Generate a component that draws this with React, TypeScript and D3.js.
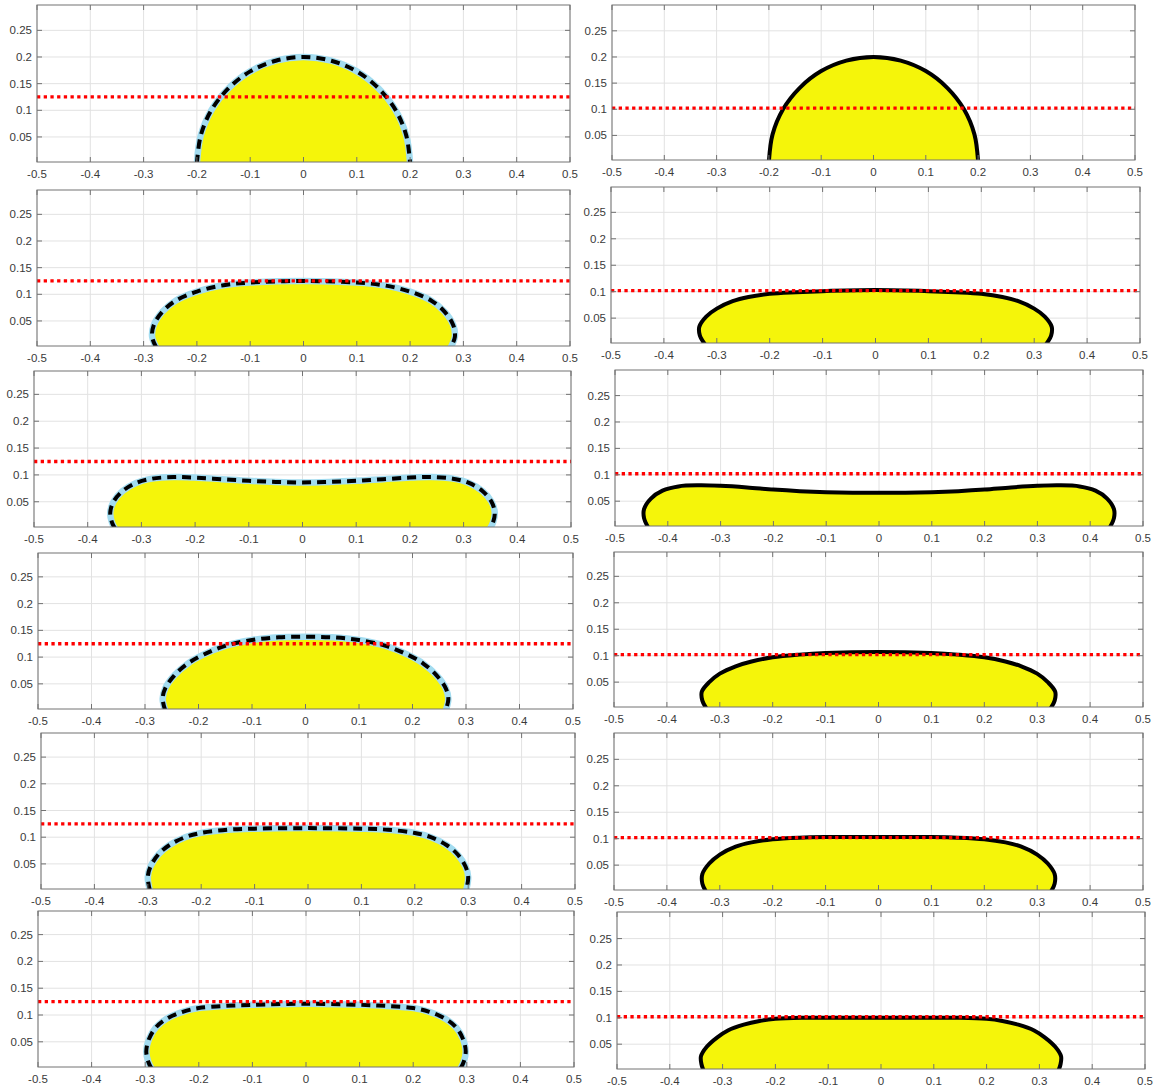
import React from "react";
import * as d3 from "d3";

// ---------- data ----------
const xTicks = [-0.5, -0.4, -0.3, -0.2, -0.1, 0, 0.1, 0.2, 0.3, 0.4, 0.5];
const xTickLabels = ["-0.5", "-0.4", "-0.3", "-0.2", "-0.1", "0", "0.1", "0.2", "0.3", "0.4", "0.5"];
const yTicks = [0.05, 0.1, 0.15, 0.2, 0.25];
const yTickLabels = ["0.05", "0.1", "0.15", "0.2", "0.25"];

const levelLeft = 0.125;
const levelRight = 0.102;

// right-half droplet profiles: from apex (x=0) around to the contact point on the wall
const profileL1: [number, number][] = [[0, 0.2], [0.052, 0.193], [0.1, 0.173], [0.141, 0.141], [0.173, 0.1], [0.193, 0.052], [0.2, 0]];
const profileL2: [number, number][] = [[0, 0.125], [0.1, 0.122], [0.15, 0.117], [0.2, 0.105], [0.24, 0.088], [0.265, 0.067], [0.281, 0.042], [0.284, 0.02], [0.276, 0]];
const profileL3: [number, number][] = [[0, 0.086], [0.05, 0.087], [0.1, 0.089], [0.15, 0.092], [0.2, 0.095], [0.24, 0.096], [0.28, 0.093], [0.31, 0.085], [0.335, 0.07], [0.352, 0.05], [0.358, 0.03], [0.355, 0.012], [0.349, 0]];
const profileL4: [number, number][] = [[0, 0.138], [0.05, 0.137], [0.1, 0.132], [0.15, 0.121], [0.19, 0.105], [0.22, 0.088], [0.245, 0.066], [0.262, 0.042], [0.267, 0.022], [0.262, 0]];
const profileL5: [number, number][] = [[0, 0.117], [0.1, 0.116], [0.15, 0.114], [0.2, 0.108], [0.23, 0.1], [0.26, 0.085], [0.28, 0.068], [0.295, 0.045], [0.3, 0.025], [0.296, 0]];
const profileL6: [number, number][] = [[0, 0.121], [0.1, 0.119], [0.15, 0.117], [0.2, 0.113], [0.23, 0.106], [0.26, 0.093], [0.28, 0.077], [0.293, 0.055], [0.298, 0.032], [0.294, 0.012], [0.288, 0]];

const profileR1: [number, number][] = [[0, 0.2], [0.052, 0.193], [0.1, 0.173], [0.141, 0.141], [0.173, 0.1], [0.193, 0.052], [0.2, 0]];
const profileR2: [number, number][] = [[0, 0.103], [0.1, 0.101], [0.15, 0.099], [0.2, 0.096], [0.24, 0.09], [0.27, 0.082], [0.3, 0.068], [0.32, 0.053], [0.333, 0.034], [0.332, 0.017], [0.322, 0]];
const profileR3: [number, number][] = [[0, 0.066], [0.05, 0.066], [0.1, 0.067], [0.15, 0.069], [0.2, 0.072], [0.25, 0.076], [0.3, 0.079], [0.34, 0.08], [0.38, 0.078], [0.41, 0.07], [0.432, 0.055], [0.445, 0.035], [0.445, 0.018], [0.437, 0]];
const profileR4: [number, number][] = [[0, 0.107], [0.1, 0.105], [0.15, 0.102], [0.2, 0.097], [0.24, 0.089], [0.27, 0.08], [0.3, 0.066], [0.32, 0.05], [0.334, 0.032], [0.333, 0.015], [0.325, 0]];
const profileR5: [number, number][] = [[0, 0.103], [0.1, 0.103], [0.15, 0.102], [0.2, 0.099], [0.24, 0.093], [0.27, 0.085], [0.3, 0.07], [0.32, 0.053], [0.333, 0.033], [0.333, 0.015], [0.326, 0]];
const profileR6: [number, number][] = [[0, 0.1], [0.15, 0.1], [0.2, 0.098], [0.23, 0.094], [0.26, 0.087], [0.29, 0.076], [0.31, 0.063], [0.33, 0.045], [0.341, 0.027], [0.34, 0.012], [0.336, 0]];

// ---------- layout ----------
type Panel = { x0: number; x1: number; y0: number; y1: number; profile: [number, number][]; level: number; left: boolean };

const panels: Panel[] = [
  { x0: 37, x1: 570, y0: 5, y1: 162, profile: profileL1, level: levelLeft, left: true },
  { x0: 37, x1: 570, y0: 190, y1: 346, profile: profileL2, level: levelLeft, left: true },
  { x0: 34, x1: 571, y0: 371, y1: 527, profile: profileL3, level: levelLeft, left: true },
  { x0: 38, x1: 573, y0: 553, y1: 709, profile: profileL4, level: levelLeft, left: true },
  { x0: 41, x1: 575, y0: 733, y1: 889, profile: profileL5, level: levelLeft, left: true },
  { x0: 38, x1: 574, y0: 911, y1: 1067, profile: profileL6, level: levelLeft, left: true },
  { x0: 612, x1: 1135, y0: 5, y1: 160, profile: profileR1, level: levelRight, left: false },
  { x0: 611, x1: 1140, y0: 187, y1: 343, profile: profileR2, level: levelRight, left: false },
  { x0: 615, x1: 1143, y0: 370, y1: 526, profile: profileR3, level: levelRight, left: false },
  { x0: 614, x1: 1143, y0: 552, y1: 707, profile: profileR4, level: levelRight, left: false },
  { x0: 614, x1: 1143, y0: 733, y1: 890, profile: profileR5, level: levelRight, left: false },
  { x0: 617, x1: 1145, y0: 912, y1: 1069, profile: profileR6, level: levelRight, left: false },
];

const Y_MIN = 0.003;
const AXIS = "#727272";
const GRID = "#e2e2e2";
const TXT = "#3a3a3a";
const FILL = "#f5f50a";
const BLUE = "#a3dcf0";
const FONT = "'Liberation Sans', Arial, Helvetica, sans-serif";
const FS = 11.5;

function PanelView({ p, i }: { p: Panel; i: number }) {
  const w = p.x1 - p.x0;
  const h = p.y1 - p.y0;
  const x = d3.scaleLinear().domain([-0.5, 0.5]).range([p.x0, p.x1]);
  const y = d3.scaleLinear().domain([Y_MIN, Y_MIN + h / w]).range([p.y1, p.y0]);
  const half = p.profile;
  const full: [number, number][] = [
    ...half.slice().reverse().map(([a, b]) => [-a, b] as [number, number]),
    ...half.slice(1),
  ];
  const line = d3
    .line<[number, number]>()
    .x((d) => x(d[0]))
    .y((d) => y(d[1]))
    .curve(d3.curveCatmullRom.alpha(0.5));
  const outline = line(full) || "";
  const fillPath = outline + "Z";
  const clipId = `clip${i}`;
  const tl = 5;
  return (
    <g>
      <defs>
        <clipPath id={clipId}>
          <rect x={p.x0} y={p.y0} width={w} height={h} />
        </clipPath>
      </defs>
      <rect x={p.x0} y={p.y0} width={w} height={h} fill="#fff" />
      {xTicks.map((t) => (
        <line key={"gx" + t} x1={x(t)} x2={x(t)} y1={p.y0} y2={p.y1} stroke={GRID} strokeWidth={1} />
      ))}
      {yTicks.map((t) => (
        <line key={"gy" + t} x1={p.x0} x2={p.x1} y1={y(t)} y2={y(t)} stroke={GRID} strokeWidth={1} />
      ))}
      <g clipPath={`url(#${clipId})`}>
        <path d={fillPath} fill={FILL} stroke="none" />
        {p.left ? (
          <>
            <path d={outline} fill="none" stroke={BLUE} strokeWidth={6.5} />
            <path d={outline} fill="none" stroke="#000" strokeWidth={4} strokeDasharray="9,6" />
          </>
        ) : (
          <path d={outline} fill="none" stroke="#000" strokeWidth={4} />
        )}
        <line
          x1={p.x0}
          x2={p.x1}
          y1={y(p.level)}
          y2={y(p.level)}
          stroke="#ff0000"
          strokeWidth={3.3}
          strokeDasharray="3.3,3.4"
        />
      </g>
      {/* ticks */}
      {xTicks.map((t) => (
        <g key={"tx" + t}>
          <line x1={x(t)} x2={x(t)} y1={p.y1} y2={p.y1 - tl} stroke={AXIS} />
          <line x1={x(t)} x2={x(t)} y1={p.y0} y2={p.y0 + tl} stroke={AXIS} />
        </g>
      ))}
      {yTicks.map((t) => (
        <g key={"ty" + t}>
          <line x1={p.x0} x2={p.x0 + tl} y1={y(t)} y2={y(t)} stroke={AXIS} />
          <line x1={p.x1} x2={p.x1 - tl} y1={y(t)} y2={y(t)} stroke={AXIS} />
        </g>
      ))}
      <rect x={p.x0} y={p.y0} width={w} height={h} fill="none" stroke={AXIS} strokeWidth={1} />
      {xTicks.map((t, k) => (
        <text key={"lx" + t} x={x(t)} y={p.y1 + 16} textAnchor="middle" fontSize={FS} fill={TXT} fontFamily={FONT}>
          {xTickLabels[k]}
        </text>
      ))}
      {yTicks.map((t, k) => (
        <text
          key={"ly" + t}
          x={p.x0 - 5}
          y={y(t)}
          dy="0.35em"
          textAnchor="end"
          fontSize={FS}
          fill={TXT}
          fontFamily={FONT}
        >
          {yTickLabels[k]}
        </text>
      ))}
    </g>
  );
}

export default function App() {
  return (
    <svg
      width={1158}
      height={1090}
      style={{ position: "absolute", left: 0, top: 0, display: "block", background: "#fff" }}
    >
      <rect x={0} y={0} width={1158} height={1090} fill="#fff" />
      {panels.map((p, i) => (
        <PanelView key={i} p={p} i={i} />
      ))}
    </svg>
  );
}
